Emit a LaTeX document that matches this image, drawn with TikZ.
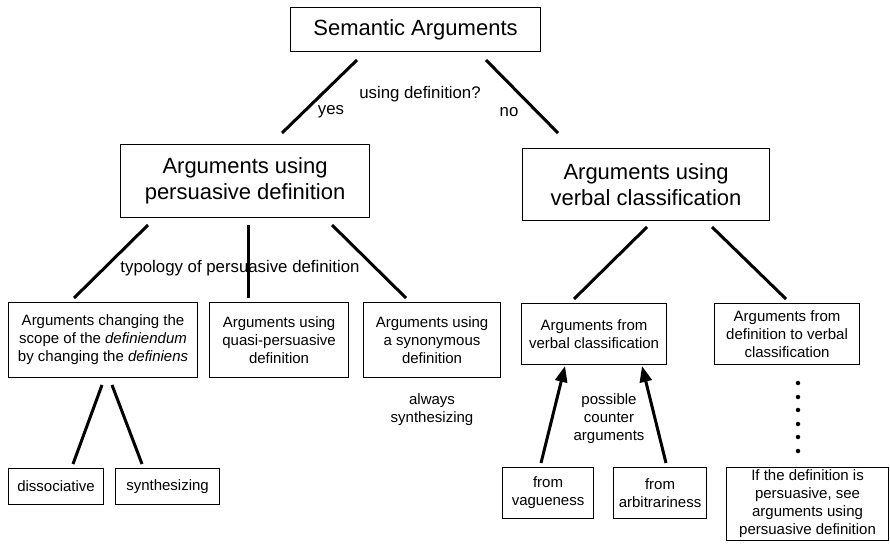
\documentclass[tikz,border=0pt]{standalone}
\usepackage{fontspec}
\setmainfont{Liberation Sans}
\usetikzlibrary{arrows.meta}
\begin{document}
\begin{tikzpicture}[x=1pt,y=-1pt,
 box/.style={draw, line width=1.1pt, inner sep=0pt, align=center, anchor=north west},
 big/.style={font=\fontsize{22}{26}\selectfont},
 small/.style={font=\fontsize{15}{18}\selectfont},
 mid/.style={font=\fontsize{16.8}{20}\selectfont},
 conn/.style={line width=3pt},
 arr/.style={line width=3pt, -{Triangle[length=16pt,width=12pt]}},
 lbl/.style={small, align=center, inner sep=0pt},
 lblm/.style={mid, align=center, inner sep=0pt},
 dotmark/.style={fill=black, circle, inner sep=0pt, minimum size=4.5pt}]
\useasboundingbox (0,0) rectangle (890,551);
% boxes
\node[box, big, minimum width=250pt, minimum height=44pt] (sem) at (290,7) {Semantic Arguments};
\node[box, big, minimum width=249pt, minimum height=73pt] (per) at (120,144) {Arguments using\\persuasive definition};
\node[box, big, minimum width=247pt, minimum height=72pt] (ver) at (522,148) {Arguments using\\verbal classification};
\node[box, small, minimum width=189pt, minimum height=75pt] (cha) at (8,302) {Arguments changing the\\scope of the \textit{definiendum}\\by changing the \textit{definiens}};
\node[box, small, minimum width=139pt, minimum height=75pt] (qua) at (209,302) {Arguments using\\quasi-persuasive\\definition};
\node[box, small, minimum width=137pt, minimum height=75pt] (syd) at (363,302) {Arguments using\\a synonymous\\definition};
\node[box, small, minimum width=95pt, minimum height=36pt] (dis) at (8,468) {dissociative};
\node[box, small, minimum width=104pt, minimum height=36pt] (syn) at (115,468) {synthesizing};
\node[box, small, minimum width=145pt, minimum height=61pt] (vc) at (521,303) {Arguments from\\verbal classification};
\node[box, small, minimum width=145pt, minimum height=61pt] (dvc) at (714,303) {Arguments from\\definition to verbal\\classification};
\node[box, small, minimum width=91pt, minimum height=51pt] (vag) at (502,467) {from\\vagueness};
\node[box, small, minimum width=93pt, minimum height=51pt] (arb) at (613,467) {from\\arbitrariness};
\node[box, small, minimum width=162pt, minimum height=73pt] (ifd) at (726,467) {If the definition is\\persuasive, see\\arguments using\\persuasive definition};
% labels
\node[lblm] (q) at (420,94) {using definition?};
\node[lblm] (yes) at (331,112) {yes};
\node[lblm] (no) at (509,112) {no};
\node[lblm] (typ) at (240,268) {typology of persuasive definition};
\node[lbl] (alw) at (432,410) {always\\synthesizing};
\node[lbl] (pca) at (609,419) {possible\\counter\\arguments};
% connector end points
\coordinate (semL) at (357,60);  \coordinate (perT) at (282,133);
\coordinate (semR) at (486,60);  \coordinate (verT) at (558,133);
\coordinate (perA) at (148,225); \coordinate (chaT) at (74,298);
\coordinate (perB) at (248,225); \coordinate (quaT) at (248,298);
\coordinate (perC) at (332,225); \coordinate (sydT) at (406,298);
\coordinate (verA) at (647,227); \coordinate (vcT) at (574,299);
\coordinate (verB) at (712,227); \coordinate (dvcT) at (786,299);
\coordinate (chaL) at (102,385); \coordinate (disT) at (73,464);
\coordinate (chaR) at (112,385); \coordinate (synT) at (142,464);
\coordinate (vagT) at (541,463); \coordinate (vcL) at (565,366);
\coordinate (arbT) at (666,463); \coordinate (vcR) at (642,366);
% connectors
\draw[conn] (semL) -- (perT);
\draw[conn] (semR) -- (verT);
\draw[conn] (perA) -- (chaT);
\draw[conn] (perB) -- (quaT);
\draw[conn] (perC) -- (sydT);
\draw[conn] (verA) -- (vcT);
\draw[conn] (verB) -- (dvcT);
\draw[conn] (chaL) -- (disT);
\draw[conn] (chaR) -- (synT);
\draw[arr] (vagT) -- (vcL);
\draw[arr] (arbT) -- (vcR);
% dots
\foreach \yy in {383,397,410,424,437,451} \node[dotmark] at (798,\yy) {};
\end{tikzpicture}
\end{document}
